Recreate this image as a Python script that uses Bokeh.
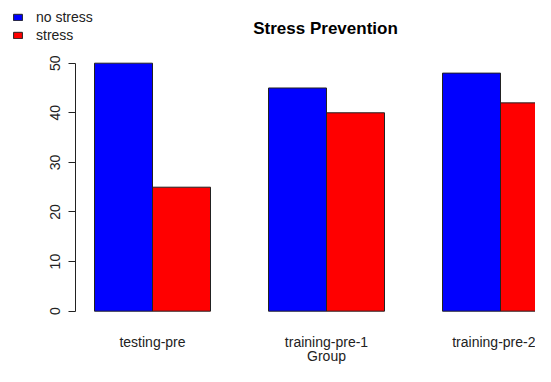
from bokeh.plotting import figure
from bokeh.models import Range1d, FixedTicker, LinearAxis, Legend, LegendItem, Label
from bokeh.embed import file_html
from bokeh.resources import INLINE

# ---- data ----
groups = ["testing-pre", "training-pre-1", "training-pre-2"]
series_names = ["no stress", "stress"]
no_stress = [50, 45, 48]
stress = [25, 40, 42]
y_ticks = [0, 10, 20, 30, 40, 50]
series_colors = ["blue", "red"]
title_text = "Stress Prevention"
x_title = "Group"

# R barplot(beside=TRUE) layout: bar width 1, space 1 before each group
bar_w = 1.0
space = 1.0
n_series = 2
span = n_series * bar_w + space
x_ns = [space + i * span + 0.5 * bar_w for i in range(len(groups))]
x_s = [x + bar_w for x in x_ns]
centers = [int(space + i * span + n_series * bar_w / 2) for i in range(len(groups))]
x_left = 0.6724                                  # left edge of the R plot region
x_mid = (space + len(groups) * span) / 2         # middle of the R plot region

FONT = "Liberation Sans"
TXT = "#222222"

# the frame covers the whole upper-left area so title/legend sit inside it;
# the y axis is pinned at the plot region's left edge
p = figure(width=535, height=366, output_backend="svg", toolbar_location=None,
           title=None,
           x_range=Range1d(-0.6207, 8.6034), y_range=Range1d(-2.08, 62.64),
           x_axis_type=None, y_axis_type=None,
           min_border_left=0, min_border_right=0,
           min_border_top=0, min_border_bottom=45)
p.outline_line_color = None
p.xgrid.visible = False
p.ygrid.visible = False
p.background_fill_color = "white"
p.border_fill_color = "white"

r1 = p.vbar(x=x_ns, top=no_stress, bottom=0, width=bar_w,
            fill_color=series_colors[0], line_color=TXT, line_width=1)
r2 = p.vbar(x=x_s, top=stress, bottom=0, width=bar_w,
            fill_color=series_colors[1], line_color=TXT, line_width=1)

# y axis
yax = LinearAxis(ticker=FixedTicker(ticks=y_ticks), bounds=(y_ticks[0], y_ticks[-1]),
                 fixed_location=x_left)
yax.major_tick_out = 7
yax.major_tick_in = 0
yax.minor_tick_line_color = None
yax.major_label_orientation = "vertical"
yax.major_label_standoff = 8
yax.major_label_text_font = FONT
yax.major_label_text_font_size = "14px"
yax.major_label_text_color = TXT
yax.axis_line_color = TXT
yax.major_tick_line_color = TXT
p.add_layout(yax, "left")


def label_axis(ticks, labels, standoff):
    ax = LinearAxis(ticker=FixedTicker(ticks=ticks),
                    major_label_overrides={t: s for t, s in zip(ticks, labels)})
    ax.axis_line_color = None
    ax.major_tick_line_color = None
    ax.minor_tick_line_color = None
    ax.major_tick_out = 0
    ax.major_tick_in = 0
    ax.major_label_standoff = standoff
    ax.major_label_text_font = FONT
    ax.major_label_text_font_size = "14px"
    ax.major_label_text_color = TXT
    return ax


# group labels, then the x title centred under the plot region
p.add_layout(label_axis(centers, groups, 12), "below")
p.add_layout(label_axis([x_mid], [x_title], -5), "below")

# title
title = Label(x=325, y=293, x_units="screen", y_units="screen", text=title_text,
              text_align="center", text_baseline="middle",
              text_font=FONT, text_font_size="17px", text_font_style="bold",
              text_color="black")
p.add_layout(title)

# legend
legend = Legend(items=[LegendItem(label=series_names[0], renderers=[r1]),
                       LegendItem(label=series_names[1], renderers=[r2])],
                location=(12, 277))
legend.border_line_color = None
legend.background_fill_alpha = 0
legend.padding = 0
legend.spacing = 0
legend.margin = 0
legend.glyph_width = 11
legend.glyph_height = 8
legend.label_height = 18
legend.label_standoff = 13
legend.label_text_font = FONT
legend.label_text_font_size = "14px"
legend.label_text_color = TXT
p.add_layout(legend)

open("out.html", "w").write(file_html(p, INLINE))
